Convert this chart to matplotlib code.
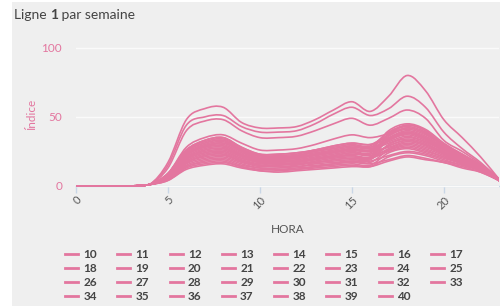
import numpy as np
import matplotlib.pyplot as plt
from matplotlib.path import Path
from matplotlib.patches import PathPatch, Rectangle
from matplotlib.lines import Line2D

plt.rcParams['font.family'] = ['Lato', 'DejaVu Sans']

HOURS = list(range(24))
WEEKS = list(range(10, 41))
X_TICKS = [0, 5, 10, 15, 20]
Y_TICKS = [0, 50, 100]

# hourly index per week
w10 = [0, 0, 0, 0, 1, 17, 48, 56, 57, 46, 42, 42, 43, 48, 55, 61, 54, 65, 80, 69, 48, 35, 21, 5]
w11 = [0, 0, 0, 0, 1, 15, 44, 50, 51, 43, 39, 39, 40, 45, 52, 57, 51, 56, 65, 57, 39, 27, 17, 5]
w12 = [0, 0, 0, 0, 1, 13, 40, 47, 48, 40, 35, 35, 36, 40, 45, 49, 44, 49, 55, 49, 33, 25, 16, 5]
w13 = [0, 0, 0, 0, 1, 9, 28, 35, 37, 31, 26, 26, 27, 30, 34, 37, 35, 38, 44, 40, 28, 21, 14, 4]
w14 = [0, 0, 0, 0, 1, 4, 12, 15, 16, 13, 11, 10, 11, 12, 13, 14, 14, 18, 21, 19, 17, 13, 10, 4]
w15 = [0, 0, 0, 0, 1, 4, 13, 16, 17, 14, 11, 11, 12, 13, 14, 15, 14, 21, 24, 22, 18, 15, 11, 4]
w16 = [0, 0, 0, 0, 1, 5, 14, 17, 18, 14, 12, 12, 12, 14, 15, 16, 15, 24, 27, 24, 20, 16, 11, 4]
w17 = [0, 0, 0, 0, 1, 5, 14, 18, 19, 15, 13, 12, 13, 14, 16, 17, 16, 19, 22, 20, 17, 14, 10, 4]
w18 = [0, 0, 0, 0, 1, 5, 15, 19, 20, 16, 13, 13, 14, 15, 16, 18, 17, 26, 30, 27, 22, 17, 12, 4]
w19 = [0, 0, 0, 0, 1, 5, 16, 20, 21, 17, 14, 14, 14, 16, 17, 18, 18, 22, 25, 23, 19, 15, 11, 4]
w20 = [0, 0, 0, 0, 1, 6, 17, 21, 22, 18, 15, 14, 15, 17, 18, 19, 19, 30, 34, 31, 24, 19, 13, 4]
w21 = [0, 0, 0, 0, 1, 6, 17, 22, 23, 18, 15, 15, 16, 17, 19, 20, 20, 25, 28, 25, 21, 16, 12, 4]
w22 = [0, 0, 0, 0, 1, 6, 17, 22, 23, 18, 15, 15, 16, 17, 19, 20, 20, 34, 39, 35, 27, 21, 14, 4]
w23 = [0, 0, 0, 0, 1, 6, 18, 23, 24, 19, 16, 16, 16, 18, 20, 21, 20, 27, 31, 28, 23, 17, 12, 4]
w24 = [0, 0, 0, 0, 1, 6, 19, 24, 25, 20, 17, 16, 17, 19, 21, 22, 21, 29, 33, 30, 24, 18, 13, 4]
w25 = [0, 0, 0, 0, 1, 6, 19, 24, 25, 20, 17, 16, 17, 19, 21, 22, 21, 38, 43, 39, 30, 22, 15, 4]
w26 = [0, 0, 0, 0, 1, 7, 20, 25, 26, 21, 17, 17, 18, 20, 21, 23, 22, 26, 29, 26, 21, 17, 12, 4]
w27 = [0, 0, 0, 0, 1, 7, 20, 26, 27, 22, 18, 18, 18, 20, 22, 24, 23, 33, 37, 33, 26, 20, 13, 4]
w28 = [0, 0, 0, 0, 1, 7, 20, 26, 27, 22, 18, 18, 18, 20, 22, 24, 23, 29, 33, 30, 24, 18, 13, 4]
w29 = [0, 0, 0, 0, 1, 7, 21, 27, 28, 22, 18, 18, 19, 21, 23, 25, 24, 36, 41, 37, 29, 21, 14, 4]
w30 = [0, 0, 0, 0, 1, 7, 22, 28, 29, 23, 19, 19, 20, 22, 24, 26, 25, 28, 32, 29, 23, 18, 12, 4]
w31 = [0, 0, 0, 0, 1, 7, 22, 28, 29, 23, 19, 19, 20, 22, 24, 26, 25, 33, 38, 34, 27, 20, 14, 4]
w32 = [0, 0, 0, 0, 1, 8, 23, 29, 30, 24, 20, 20, 20, 23, 25, 26, 26, 40, 45, 41, 31, 23, 15, 4]
w33 = [0, 0, 0, 0, 1, 8, 23, 29, 31, 25, 20, 20, 21, 23, 25, 27, 26, 31, 35, 32, 25, 19, 13, 4]
w34 = [0, 0, 0, 0, 1, 8, 23, 29, 31, 25, 20, 20, 21, 23, 25, 27, 26, 35, 40, 36, 28, 21, 14, 4]
w35 = [0, 0, 0, 0, 1, 8, 24, 30, 32, 26, 21, 21, 22, 24, 26, 28, 27, 32, 36, 32, 26, 19, 13, 4]
w36 = [0, 0, 0, 0, 1, 8, 25, 31, 33, 26, 22, 21, 22, 25, 27, 29, 28, 37, 42, 38, 29, 22, 14, 4]
w37 = [0, 0, 0, 0, 1, 8, 25, 31, 33, 26, 22, 21, 22, 25, 27, 29, 28, 33, 38, 34, 27, 20, 14, 4]
w38 = [0, 0, 0, 0, 1, 9, 26, 32, 34, 27, 22, 22, 23, 26, 28, 30, 29, 39, 44, 40, 30, 23, 15, 4]
w39 = [0, 0, 0, 0, 1, 9, 26, 33, 35, 28, 23, 23, 24, 26, 29, 31, 30, 34, 39, 35, 27, 21, 14, 4]
w40 = [0, 0, 0, 0, 1, 9, 26, 33, 35, 28, 23, 23, 24, 26, 29, 31, 30, 37, 42, 38, 29, 22, 14, 4]

SERIES = [w10, w11, w12, w13, w14, w15, w16, w17, w18, w19, w20, w21, w22, w23, w24, w25,
          w26, w27, w28, w29, w30, w31, w32, w33, w34, w35, w36, w37, w38, w39, w40]

PINK = '#e3769f'
BG = '#efefef'


def spline_path(x, y, t=1.0):
    """Smooth line through the points as cubic Bezier segments (Catmull-Rom)."""
    p = np.column_stack([x, y]).astype(float)
    ext = np.vstack([p[0], p, p[-1]])
    verts = [p[0]]
    codes = [Path.MOVETO]
    for i in range(len(p) - 1):
        p0, p1, p2, p3 = ext[i], ext[i + 1], ext[i + 2], ext[i + 3]
        c1 = p1 + (p2 - p0) * t / 6
        c2 = p2 - (p3 - p1) * t / 6
        # no dipping under the zero line
        c1[1] = max(c1[1], 0)
        c2[1] = max(c2[1], 0)
        verts += [c1, c2, p2]
        codes += [Path.CURVE4] * 3
    return Path(verts, codes)


fig = plt.figure(figsize=(5, 3.06), dpi=100)
fig.patches.append(Rectangle((12 / 500, 0), 1, 1 - 2 / 306, transform=fig.transFigure,
                             facecolor=BG, edgecolor='none', zorder=-10))

# y = 0 sits at 186 px from the top, y = 100 at 48 px
ax = fig.add_axes([76 / 500, 118 / 306, 423 / 500, 147 / 306])
ax.set_facecolor('none')

for vals in SERIES:
    ax.add_patch(PathPatch(spline_path(HOURS, vals), fill=False, edgecolor=PINK,
                           linewidth=1.2, capstyle='round', joinstyle='round', zorder=3))

ax.set_xlim(0, 23)
ax.set_ylim(-1.5, 105)
ax.spines['bottom'].set_position(('data', 0))
ax.set_xticks(X_TICKS)
ax.set_yticks(Y_TICKS)
ax.set_yticklabels([str(v) for v in Y_TICKS])
ax.grid(axis='y', color='#fafafa', linewidth=1.0, zorder=0)

for s in ['top', 'right', 'left']:
    ax.spines[s].set_visible(False)
ax.spines['bottom'].set_color('#c9d6e6')
ax.spines['bottom'].set_linewidth(1.0)
ax.spines['bottom'].set_zorder(1)

ax.tick_params(axis='y', length=0, pad=10, labelsize=8.5, labelcolor=PINK)
ax.tick_params(axis='x', length=5, width=1, color='#c9d6e6', pad=1, labelsize=8,
               labelcolor='#555555')
for lab in ax.get_xticklabels():
    lab.set_rotation(45)
    lab.set_ha('right')
    lab.set_va('top')
    lab.set_rotation_mode('anchor')

ax.set_ylabel('Índice', color=PINK, fontsize=8.5)
ax.yaxis.set_label_coords(-0.093, 0.5)
ax.set_xlabel('HORA', color='#555555', fontsize=8.5, labelpad=9)

# title with bold line number
fig.canvas.draw()
renderer = fig.canvas.get_renderer()
tx = 14 / 500
ty = 1 - 15 / 306
for part, weight in [('Ligne ', 'normal'), ('1', 'bold'), (' par semaine', 'normal')]:
    t = fig.text(tx, ty, part, fontsize=10, color='#444444', weight=weight, va='center', ha='left')
    bb = t.get_window_extent(renderer)
    tx += bb.width / fig.bbox.width

# legend, filled row by row
handles = [Line2D([], [], color=PINK, linewidth=2) for _ in WEEKS]
labels = [str(w) for w in WEEKS]
order = [r * 8 + c for c in range(8) for r in range(4) if r * 8 + c < len(WEEKS)]
fig.legend([handles[i] for i in order], [labels[i] for i in order],
           loc='upper left', bbox_to_anchor=(59 / 500, 1 - 243 / 306), ncol=8,
           frameon=False, borderpad=0, handlelength=1.1, handletextpad=0.45,
           columnspacing=1.72, labelspacing=0.26, labelcolor='#444444',
           prop=dict(family='Lato', weight='bold', size=8.5))

fig.savefig('out.png', dpi=100)
